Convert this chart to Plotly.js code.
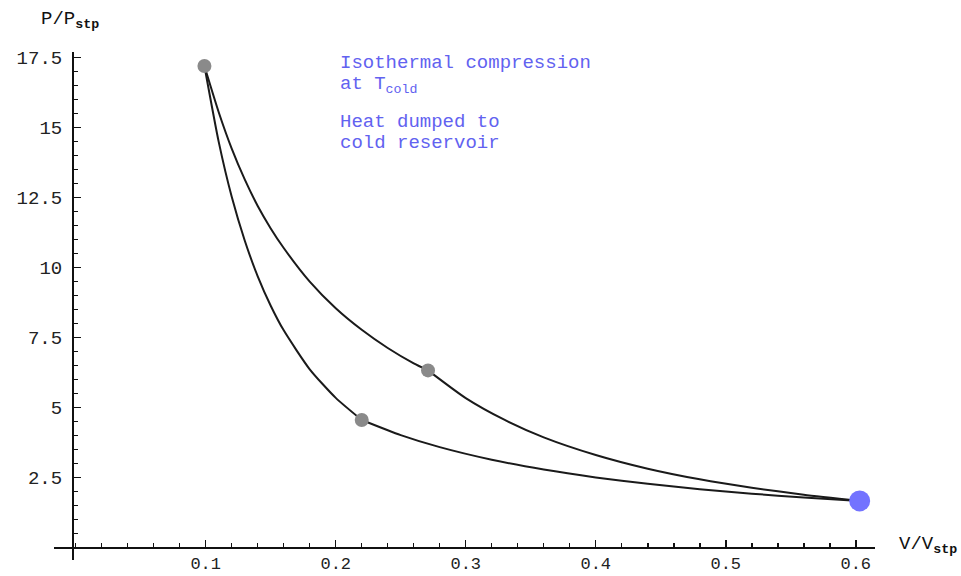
<!DOCTYPE html>
<html>
<head>
<meta charset="utf-8">
<script src="https://cdn.plot.ly/plotly-3.0.1.min.js"></script>
<style>html,body{margin:0;padding:0;background:#fff;}#chart{width:961px;height:576px;}</style>
</head>
<body>
<div id="chart"></div>
<script>
// Hot isotherm (A -> B)
const hotIsoV = [0.099, 0.11, 0.12, 0.13, 0.14, 0.15, 0.16, 0.18, 0.20, 0.22, 0.24, 0.26, 0.271];
const hotIsoP = [17.2, 15.55, 14.25, 13.15, 12.2, 11.4, 10.7, 9.5, 8.55, 7.78, 7.13, 6.58, 6.33];
// Adiabatic expansion (B -> C)
const adiaExpV = [0.271, 0.30, 0.33, 0.36, 0.40, 0.44, 0.48, 0.52, 0.56, 0.603];
const adiaExpP = [6.33, 5.34, 4.56, 3.94, 3.31, 2.82, 2.44, 2.14, 1.89, 1.67];
// Cold isotherm (C -> D)
const coldIsoV = [0.603, 0.56, 0.52, 0.48, 0.44, 0.40, 0.36, 0.32, 0.28, 0.25, 0.22];
const coldIsoP = [1.67, 1.79, 1.93, 2.09, 2.28, 2.51, 2.79, 3.14, 3.59, 4.02, 4.56];
// Adiabatic compression (D -> A)
const adiaCompV = [0.22, 0.20, 0.18, 0.16, 0.15, 0.14, 0.13, 0.12, 0.11, 0.099];
const adiaCompP = [4.56, 5.35, 6.37, 7.76, 8.64, 9.69, 10.97, 12.53, 14.49, 17.2];
// State points
const stateV = [0.099, 0.271, 0.22];
const stateP = [17.2, 6.33, 4.56];
const currentV = [0.603];
const currentP = [1.67];
// Ticks
const xTickVals = [0.1, 0.2, 0.3, 0.4, 0.5, 0.6];
const xTickText = ["0.1", "0.2", "0.3", "0.4", "0.5", "0.6"];
const yTickVals = [2.5, 5, 7.5, 10, 12.5, 15, 17.5];
const yTickText = ["2.5", "5", "7.5", "10", "12.5", "15", "17.5"];
// Texts
const noteLines = ["Isothermal compression", "at T<sub>cold</sub>", "Heat dumped to", "cold reservoir"];
const yTitle = "P/P<sub><b>stp</b></sub>";
const xTitle = "V/V<sub><b>stp</b></sub>";

const FONT = "Liberation Mono, Courier New, monospace";
const lineStyle = {color: "#1a1a1a", width: 2, shape: "spline", smoothing: 0.6};
const seg = (x, y) => ({x, y, type: "scatter", mode: "lines", line: lineStyle, hoverinfo: "skip", showlegend: false});

const traces = [
  seg(hotIsoV, hotIsoP),
  seg(adiaExpV, adiaExpP),
  seg(coldIsoV, coldIsoP),
  seg(adiaCompV, adiaCompP),
  {x: stateV, y: stateP, type: "scatter", mode: "markers", marker: {size: 14, color: "#8a8a8a"}, showlegend: false},
  {x: currentV, y: currentP, type: "scatter", mode: "markers", marker: {size: 21, color: "#7373ff"}, showlegend: false}
];

const noteY = [0.979, 0.935, 0.8622, 0.8209];
const annotations = noteLines.map((t, i) => ({
  text: t, xref: "paper", yref: "paper", x: 0.3459, y: noteY[i],
  xanchor: "left", yanchor: "middle", showarrow: false,
  font: {family: FONT, size: 19, color: "#6262f0"}
}));
annotations.push({text: yTitle, xref: "paper", yref: "paper", x: -0.0183, y: 1.063,
  xanchor: "left", yanchor: "middle", showarrow: false, font: {family: FONT, size: 19, color: "#111"}});
annotations.push({text: xTitle, xref: "paper", yref: "paper", x: 1.027, y: 0.0295,
  xanchor: "left", yanchor: "middle", showarrow: false, font: {family: FONT, size: 19, color: "#111"}});

const layout = {
  width: 961, height: 576,
  margin: {l: 54, r: 86, t: 52, b: 16},
  paper_bgcolor: "#fff", plot_bgcolor: "#fff",
  showlegend: false,
  xaxis: {
    range: [-0.0167, 0.6148], anchor: "free", position: 0.0242,
    showgrid: false, zeroline: false, showline: true, linecolor: "#111", linewidth: 2,
    tickmode: "array", tickvals: xTickVals, ticktext: xTickText,
    ticks: "inside", ticklen: 7, tickwidth: 1.5, tickcolor: "#111",
    ticklabelstandoff: 0,
    tickfont: {family: FONT, size: 17, color: "#222"},
    minor: {dtick: 0.02, tick0: 0, ticks: "inside", ticklen: 4, tickwidth: 1.5, tickcolor: "#111", showgrid: false}
  },
  yaxis: {
    range: [-0.44, 17.70], anchor: "free", position: 0.02314,
    showgrid: false, zeroline: false, showline: true, linecolor: "#111", linewidth: 2,
    tickmode: "array", tickvals: yTickVals, ticktext: yTickText,
    ticks: "inside", ticklen: 7, tickwidth: 1.5, tickcolor: "#111",
    ticklabelstandoff: 6,
    tickfont: {family: FONT, size: 19, color: "#222"},
    minor: {dtick: 0.5, tick0: 0, ticks: "inside", ticklen: 4, tickwidth: 1.5, tickcolor: "#111", showgrid: false}
  },
  annotations: annotations
};

Plotly.newPlot("chart", traces, layout, {displayModeBar: false, staticPlot: true});
</script>
</body>
</html>
